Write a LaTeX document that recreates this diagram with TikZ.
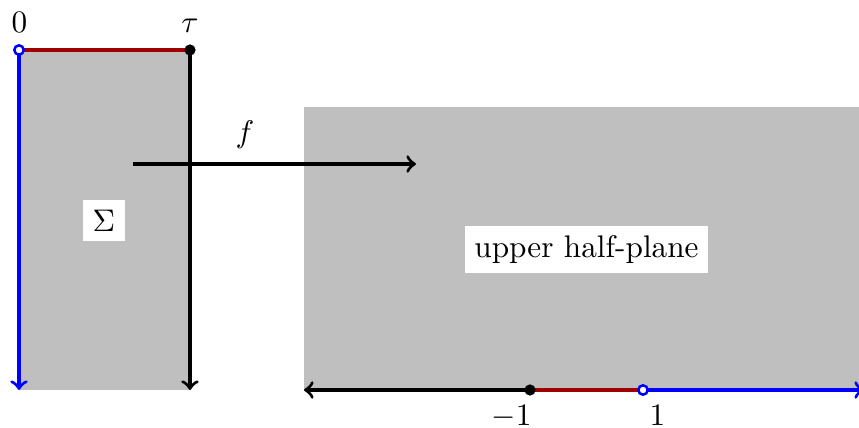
\documentclass[tikz,border=0pt]{standalone}
\definecolor{darkred}{rgb}{0.63,0,0}
\definecolor{regiongray}{RGB}{191,191,191}
\begin{document}
\begin{tikzpicture}[x=0.32pt,y=-0.32pt,
  edge/.style={line width=1.05pt},
  region/.style={fill=regiongray, draw=none},
  filleddot/.style={circle,fill=black,inner sep=0pt,minimum size=3.6pt},
  opendot/.style={circle,draw=blue,fill=white,line width=0.8pt,inner sep=0pt,minimum size=3pt},
  tag/.style={fill=white,inner sep=3pt},
  lbl/.style={anchor=base,inner sep=0pt}]
\clip (0,0) rectangle (859,428);
% corner coordinates
\coordinate (TL) at (19,50);
\coordinate (TR) at (190,50);
\coordinate (BL) at (19,390);
\coordinate (BR) at (190,390);
\coordinate (HL) at (304,390);
\coordinate (HR) at (864,390);
\coordinate (M) at (530,390);
\coordinate (P) at (643,390);
\coordinate (FS) at (133,164);
\coordinate (FE) at (416,164);
% regions
\fill[region] (19,50) rectangle (190,390);
\fill[region] (304,107) rectangle (870,390);
% strip edges
\draw[edge,darkred] (TL) -- (TR);
\draw[edge,blue,->] (TL) -- (BL);
\draw[edge,black,->] (TR) -- (BR);
% real line
\draw[edge,black,->] (M) -- (HL);
\draw[edge,darkred] (M) -- (P);
\draw[edge,blue,->] (P) -- (HR);
% map arrow
\draw[edge,->] (FS) -- (FE);
% dots
\node[opendot] (d0) at (TL) {};
\node[filleddot] (dt) at (TR) {};
\node[filleddot] (dm) at (M) {};
\node[opendot] (dp) at (P) {};
% labels
\node[lbl] (l0) at (19.5,32.5) {$0$};
\node[lbl] (lt) at (190,32.5) {$\tau$};
\node[lbl] (lf) at (245,143) {$f$};
\node[lbl] (lm) at (511.5,425) {$-1$};
\node[lbl] (lp) at (657.5,425) {$1$};
\node[tag] (sig) at (104,220.5) {$\Sigma$};
\node[tag] (uhp) at (586.5,249.5) {upper half-plane};
\end{tikzpicture}
\end{document}
